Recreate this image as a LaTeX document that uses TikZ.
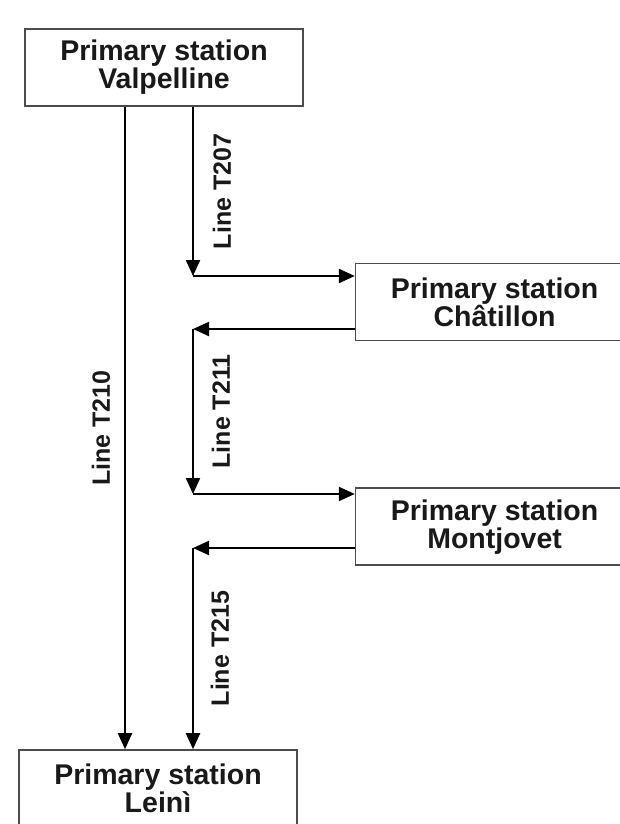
\documentclass[tikz,border=0pt]{standalone}
\usepackage{fontspec}
\setmainfont{Liberation Sans}
\usetikzlibrary{positioning, arrows.meta}

\begin{document}
\begin{tikzpicture}[
    x=1pt, y=-1pt,
    station/.style={draw=black!70, line width=1.6pt, rectangle, minimum width=278pt, minimum height=77pt, inner sep=0pt, align=center, font=\fontsize{28.5}{28}\selectfont\bfseries, text=black!90},
    arr/.style={-{Triangle[length=16pt, width=14pt]}, line width=2.2pt},
    linelbl/.style={rotate=90, font=\fontsize{25}{25}\selectfont\bfseries, text=black!90}
]
    \useasboundingbox (0,0) rectangle (620,824);
    \clip (0,0) rectangle (620,824);

    % Primary stations
    \node[station] (valp) at (164,67.5) {Primary station\\Valpelline};
    \node[station, below right=156pt and 51pt of valp] (chat) {Primary station\\Châtillon};
    \node[station, below=146pt of chat] (mont) {Primary station\\Montjovet};
    \node[station] (lein) at (158,788.5) {Primary station\\Leinì};

    % Junctions of the lines
    \coordinate (x210) at (125,0);
    \coordinate (j207) at (193,276);
    \coordinate (j211) at (193,329);
    \coordinate (j211e) at (193,494);
    \coordinate (j215) at (193,548);

    % Lines
    \draw[arr] (valp.south -| x210) -- (lein.north -| x210) node[midway, xshift=-24pt, linelbl] {Line T210};
    \draw[arr] (valp.south -| j207) -- (j207) node[midway, xshift=29pt, linelbl] {Line T207};
    \draw[arr] (j207) -- (j207 -| chat.west);
    \draw[arr] (j211 -| chat.west) -- (j211);
    \draw[arr] (j211) -- (j211e) node[midway, xshift=28pt, linelbl] {Line T211};
    \draw[arr] (j211e) -- (j211e -| mont.west);
    \draw[arr] (j215 -| mont.west) -- (j215);
    \draw[arr] (j215) -- (lein.north -| j215) node[midway, xshift=27pt, linelbl] {Line T215};
\end{tikzpicture}
\end{document}
